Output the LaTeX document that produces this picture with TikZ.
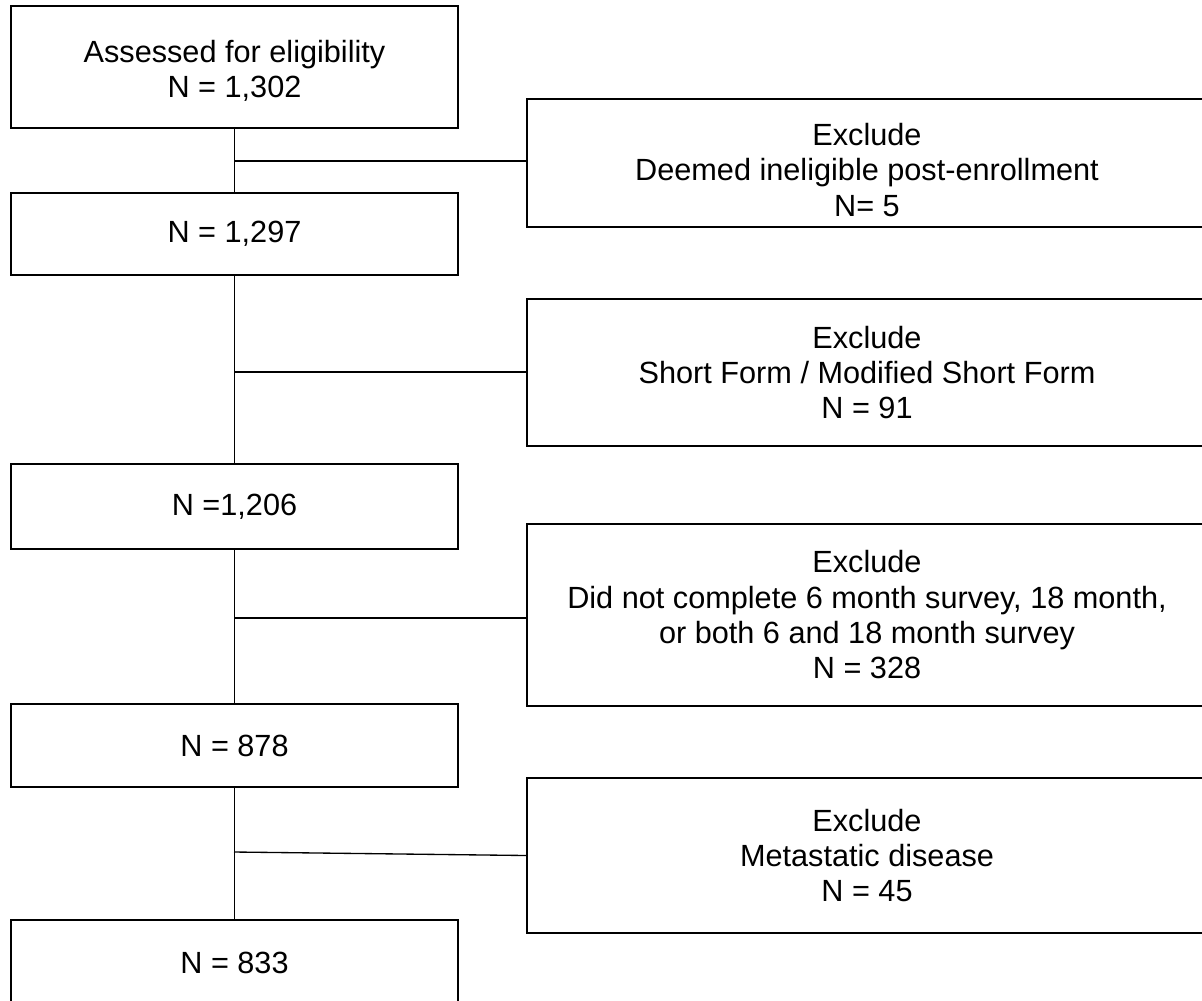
\documentclass[tikz,border=0pt]{standalone}
\usepackage{fontspec}
\setmainfont{Liberation Sans}
\begin{document}
\begin{tikzpicture}[x=0.75pt,y=-0.75pt,
  box/.style={draw=black, line width=1.3pt, inner sep=0pt, align=center,
    font=\fontsize{23pt}{26.5pt}\selectfont},
  leftbox/.style={box, minimum width=335.25pt},
  rightbox/.style={box, minimum width=510pt},
  link/.style={draw=black, line width=1pt}]
\useasboundingbox[fill=white] (0,0) rectangle (1202,1000);
\node[leftbox, minimum height=91.5pt] (b1) at (234.5,67) {\rule{0pt}{22.8pt}Assessed for eligibility\\N = 1,302};
\node[leftbox, minimum height=61.5pt] (b2) at (234.5,234) {N = 1,297};
\node[leftbox, minimum height=63.75pt] (b3) at (234.5,506.5) {N =1,206};
\node[leftbox, minimum height=62.25pt] (b4) at (234.5,745.5) {N = 878};
\node[leftbox, minimum height=63.75pt] (b5) at (234.5,962.5) {N = 833};
\node[rightbox, minimum height=96pt] (r1) at (867,163) {\rule{0pt}{27pt}Exclude\\Deemed ineligible post-enrollment\\N= 5};
\node[rightbox, minimum height=110.25pt] (r2) at (867,372.5) {Exclude\\Short Form / Modified Short Form\\N = 91};
\node[rightbox, minimum height=136.5pt] (r3) at (867,615) {Exclude\\Did not complete 6 month survey, 18 month,\\or both 6 and 18 month survey\\N = 328};
\node[rightbox, minimum height=116.25pt] (r4) at (867,855.5) {Exclude\\Metastatic disease\\N = 45};
\coordinate (j1) at (234,161);
\coordinate (j2) at (234,372);
\coordinate (j3) at (234,618);
\coordinate (j4) at (234,852);
\draw[link] (b1.south) -- (b2.north);
\draw[link] (b2.south) -- (b3.north);
\draw[link] (b3.south) -- (b4.north);
\draw[link] (b4.south) -- (b5.north);
\draw[link] (j1) -- (j1 -| r1.west);
\draw[link] (j2) -- (j2 -| r2.west);
\draw[link] (j3) -- (j3 -| r3.west);
\draw[link] (j4) -- (r4.west);
\end{tikzpicture}
\end{document}
